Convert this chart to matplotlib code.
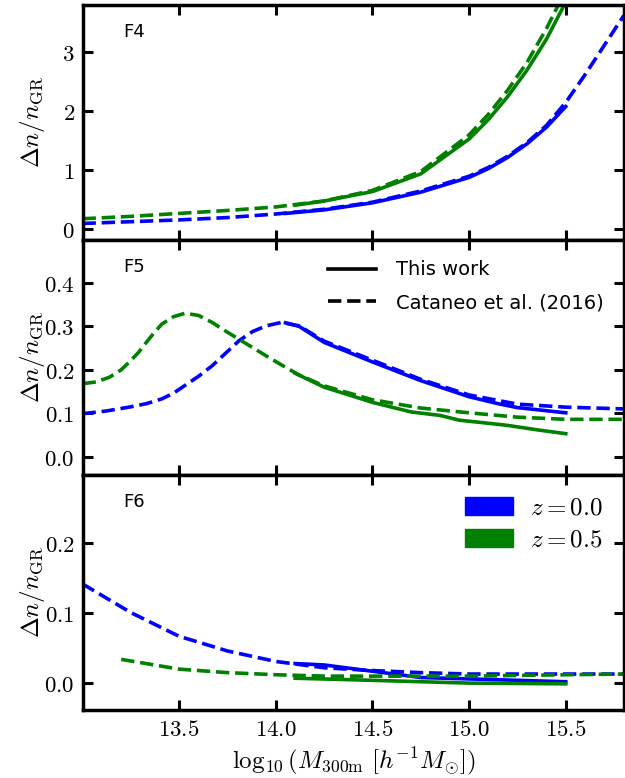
import matplotlib
matplotlib.use("Agg")
import matplotlib.pyplot as plt
from matplotlib.ticker import FuncFormatter, MultipleLocator
from matplotlib.lines import Line2D
from matplotlib.patches import Patch

plt.rcParams['mathtext.fontset'] = 'cm'
plt.rcParams['font.family'] = ['DejaVu Sans']

BLUE = 'blue'
GREEN = 'green'

# ---- F4 ----
f4_cat_x = [13.0, 13.25, 13.5, 13.75, 14.0, 14.25, 14.5, 14.75, 15.0, 15.1, 15.2, 15.3, 15.4, 15.5, 15.6, 15.7, 15.8]
f4_cat_z0 = [0.10, 0.13, 0.16, 0.20, 0.26, 0.34, 0.46, 0.65, 0.90, 1.05, 1.24, 1.47, 1.76, 2.15, 2.62, 3.12, 3.62]
f4_cat_z05_x = [13.0, 13.25, 13.5, 13.75, 14.0, 14.25, 14.5, 14.75, 15.0, 15.1, 15.2, 15.3, 15.4, 15.5]
f4_cat_z05 = [0.18, 0.22, 0.27, 0.32, 0.38, 0.48, 0.66, 0.98, 1.60, 1.95, 2.36, 2.83, 3.40, 4.05]
f4_this_z0_x = [14.05, 14.25, 14.5, 14.75, 15.0, 15.1, 15.2, 15.3, 15.4, 15.5]
f4_this_z0 = [0.27, 0.33, 0.45, 0.63, 0.88, 1.03, 1.22, 1.45, 1.73, 2.08]
f4_this_z05_x = [14.1, 14.25, 14.5, 14.75, 15.0, 15.1, 15.2, 15.3, 15.4, 15.5]
f4_this_z05 = [0.41, 0.48, 0.64, 0.94, 1.53, 1.86, 2.25, 2.70, 3.22, 3.85]

# ---- F5 ----
f5_cat_x = [13.0, 13.12, 13.24, 13.33, 13.41, 13.47, 13.53, 13.6, 13.67, 13.74, 13.81, 13.88, 13.95,
            14.03, 14.12, 14.25, 14.5, 14.75, 15.0, 15.25, 15.5, 15.8]
f5_cat_z0 = [0.099, 0.105, 0.114, 0.122, 0.133, 0.146, 0.164, 0.185, 0.209, 0.238, 0.267, 0.288, 0.301,
             0.309, 0.301, 0.266, 0.222, 0.178, 0.142, 0.121, 0.114, 0.110]
f5_cat_z05_x = [13.0, 13.07, 13.14, 13.2, 13.24, 13.29, 13.33, 13.37, 13.41, 13.47, 13.53, 13.6,
                13.67, 13.74, 13.81, 13.88, 13.95, 14.03, 14.12, 14.25, 14.5, 14.75, 15.0,
                15.25, 15.5, 15.8]
f5_cat_z05 = [0.168, 0.172, 0.183, 0.200, 0.217, 0.240, 0.263, 0.285, 0.305, 0.322, 0.330, 0.325,
              0.309, 0.289, 0.270, 0.251, 0.232, 0.211, 0.188, 0.163, 0.131, 0.112, 0.101,
              0.091, 0.086, 0.086]
f5_this_z0_x = [14.05, 14.12, 14.25, 14.5, 14.75, 15.0, 15.15, 15.25, 15.5]
f5_this_z0 = [0.308, 0.300, 0.263, 0.218, 0.175, 0.138, 0.122, 0.113, 0.101]
f5_this_z05_x = [14.1, 14.25, 14.5, 14.7, 14.85, 14.95, 15.1, 15.2, 15.35, 15.5]
f5_this_z05 = [0.192, 0.160, 0.125, 0.103, 0.095, 0.084, 0.077, 0.072, 0.062, 0.053]

# ---- F6 ----
f6_cat_x = [13.0, 13.25, 13.5, 13.75, 14.0, 14.25, 14.5, 14.75, 15.0, 15.5, 15.8]
f6_cat_z0 = [0.142, 0.101, 0.067, 0.046, 0.031, 0.022, 0.018, 0.015, 0.013, 0.013, 0.013]
f6_cat_z05_x = [13.2, 13.5, 13.75, 14.0, 14.25, 14.5, 14.75, 15.0, 15.5, 15.8]
f6_cat_z05 = [0.034, 0.020, 0.015, 0.012, 0.010, 0.010, 0.010, 0.010, 0.012, 0.013]
f6_this_z0_x = [14.1, 14.25, 14.5, 14.75, 15.0, 15.25, 15.5]
f6_this_z0 = [0.028, 0.026, 0.017, 0.008, 0.006, 0.004, 0.002]
f6_this_z05_x = [14.1, 14.5, 15.0, 15.5]
f6_this_z05 = [0.007, 0.004, 0.000, -0.001]

panels = [
    ("F4", (-0.18, 3.8), 1.0, "{:.0f}",
     (f4_cat_x, f4_cat_z0), (f4_cat_z05_x, f4_cat_z05),
     (f4_this_z0_x, f4_this_z0), (f4_this_z05_x, f4_this_z05)),
    ("F5", (-0.042, 0.4985), 0.1, "{:.1f}",
     (f5_cat_x, f5_cat_z0), (f5_cat_z05_x, f5_cat_z05),
     (f5_this_z0_x, f5_this_z0), (f5_this_z05_x, f5_this_z05)),
    ("F6", (-0.0385, 0.298), 0.1, "{:.1f}",
     (f6_cat_x, f6_cat_z0), (f6_cat_z05_x, f6_cat_z05),
     (f6_this_z0_x, f6_this_z0), (f6_this_z05_x, f6_this_z05)),
]

fig, axes = plt.subplots(3, 1, figsize=(6.25, 7.78), dpi=100, sharex=True)
fig.subplots_adjust(left=0.133, right=0.998, top=0.9936, bottom=0.0874, hspace=0)

LW = 2.6
for ax, (name, ylim, step, fmt, cz0, cz05, tz0, tz05) in zip(axes, panels):
    ax.plot(*tz0, color=BLUE, lw=LW, ls='-')
    ax.plot(*cz0, color=BLUE, lw=LW, ls='--')
    ax.plot(*tz05, color=GREEN, lw=LW, ls='-')
    ax.plot(*cz05, color=GREEN, lw=LW, ls='--')
    ax.set_xlim(13.003, 15.8)
    ax.set_ylim(*ylim)
    ax.yaxis.set_major_locator(MultipleLocator(step))
    ax.yaxis.set_major_formatter(FuncFormatter(lambda v, p, f=fmt: "$" + f.format(v + 0.0) + "$"))
    ax.xaxis.set_major_locator(MultipleLocator(0.5))
    ax.xaxis.set_major_formatter(FuncFormatter(lambda v, p: "${:.1f}$".format(v)))
    ax.tick_params(direction='in', top=True, right=True, length=7, width=2.2,
                   labelsize=16.5, pad=6)
    for s in ax.spines.values():
        s.set_linewidth(2.5)
    ax.set_ylabel(r"$\Delta n/n_{\rm GR}$", fontsize=18)
    ax.text(0.075, 0.885, name, transform=ax.transAxes, fontsize=13,
            ha='left', va='center')

for ax in axes:
    ax.yaxis.set_label_coords(-0.066, 0.5)

axes[2].set_xlabel(r"$\log_{10}(M_{\rm 300m}\ [h^{-1}M_{\odot}])$", fontsize=18, labelpad=3)

style_handles = [Line2D([], [], color='black', lw=LW, ls='-'),
                 Line2D([], [], color='black', lw=LW, ls='--')]
axes[1].legend(style_handles, ["This work", "Cataneo et al. (2016)"],
               loc='upper right', frameon=False, fontsize=14,
               handlelength=2.5, handletextpad=1.0, borderaxespad=0.65,
               labelspacing=0.7)

z_handles = [Patch(color=BLUE), Patch(color=GREEN)]
axes[2].legend(z_handles, [r"$z = 0.0$", r"$z = 0.5$"],
               loc='upper right', frameon=False, fontsize=18,
               handlelength=1.92, handleheight=0.72, borderaxespad=0.44,
               labelspacing=0.3, handletextpad=0.68)

fig.savefig("out.png", dpi=100)
